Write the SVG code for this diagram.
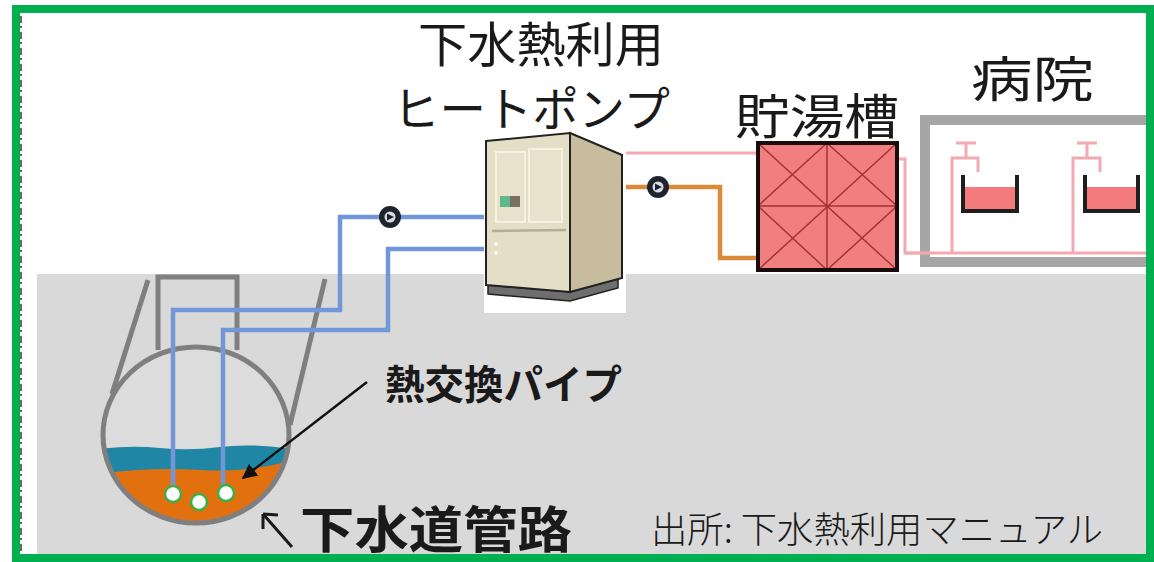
<svg xmlns="http://www.w3.org/2000/svg" width="1154" height="562" viewBox="0 0 1154 562">
  <style>
    .jp { font-family: "Noto Sans CJK JP", "Noto Sans CJK SC", sans-serif; fill: #1a1a1a; }
    .blue { fill: none; stroke: #7396d6; stroke-width: 4.5; stroke-linejoin: miter; }
    .pink { fill: none; stroke: #f2a9b1; stroke-width: 3; }
    .orange { fill: none; stroke: #d98a3a; stroke-width: 4.5; }
    .rim { fill: none; stroke: #7f7f7f; stroke-width: 5; stroke-linejoin: miter; }
    .grid { stroke: #a33535; stroke-width: 1.5; }
    .sink { fill: none; stroke: #1e1e1e; stroke-width: 4; }
    .ball { fill: #ffffff; stroke: #3cb043; stroke-width: 2.5; }
  </style>
  <defs>
    <clipPath id="sewerClip">
      <ellipse cx="196" cy="435" rx="93" ry="88"/>
    </clipPath>
    <marker id="arrowHead" viewBox="0 0 10 10" refX="9" refY="5" markerWidth="6" markerHeight="6" orient="auto" markerUnits="strokeWidth">
      <path d="M0,0 L10,5 L0,10 Z" fill="#111"/>
    </marker>
    <g id="pump">
      <circle r="11" fill="#1d2430"/>
      <circle r="5.5" fill="#d8dde4"/>
      <path d="M-3,-3.5 L4,0 L-3,3.5 Z" fill="#1d2430"/>
    </g>
  </defs>

  <!-- page -->
  <rect width="1154" height="562" fill="#ffffff"/>
  <rect x="37" y="274" width="1117" height="284" fill="#d9d9d9"/>
  <line x1="21" y1="16" x2="21" y2="554" stroke="#3a3a3a" stroke-width="2" stroke-dasharray="7 3 2 4" opacity="0.75"/>

  <!-- sewer pipe with heat-exchange pipes -->
  <g id="sewer">
    <ellipse cx="196" cy="435" rx="93" ry="88" fill="#dcdcdc"/>
    <g clip-path="url(#sewerClip)">
      <path d="M100,449 Q130,445 160,448 T220,447 T292,449 L292,540 L100,540 Z" fill="#1f86a6"/>
      <path d="M100,474 Q150,467 200,470 T292,460 L292,540 L100,540 Z" fill="#e2700f"/>
    </g>
    <path class="rim" d="M158,350 L158,277 L237,277 L237,350"/>
    <path class="rim" d="M148,280 L112,394"/>
    <path class="rim" d="M325,279 L290,425"/>
    <ellipse class="rim" cx="196" cy="435" rx="93" ry="88"/>
  </g>

  <!-- water / hot-water piping -->
  <g id="connectors">
    <path class="blue" d="M484,217 L340,217 L340,310 L173,310 L173,490"/>
    <path class="blue" d="M484,249 L388,249 L388,330 L223,330 L223,487"/>
    <path class="orange" d="M626,187 L720,187 L720,258 L758,258"/>
    <path class="pink" d="M626,153 L758,153"/>
    <path class="pink" d="M897,159 L905,159 L905,253 L1154,253"/>
    <line x1="367" y1="382" x2="243" y2="478" stroke="#111" stroke-width="2.5" marker-end="url(#arrowHead)"/>
    <use href="#pump" x="390" y="217"/>
    <use href="#pump" x="658" y="187"/>
  </g>

  <g id="pipes-in-sewer">
    <circle class="ball" cx="173" cy="494" r="8"/>
    <circle class="ball" cx="199" cy="502" r="8"/>
    <circle class="ball" cx="226" cy="493" r="8"/>
  </g>

  <!-- sewage heat pump unit -->
  <g id="heat-pump">
    <rect x="484" y="133" width="142" height="180" fill="#ffffff"/>
    <path d="M488,285 L570,292 L618,279 L618,288 L570,301 L488,294 Z" fill="#6e6e6e" stroke="#222" stroke-width="1.5"/>
    <path d="M570,133 L622,155 L622,278 L570,292 Z" fill="#c8bc9e" stroke="#222" stroke-width="2"/>
    <path d="M486,141 L570,133 L570,292 L486,285 Z" fill="#e5dec6" stroke="#222" stroke-width="2"/>
    <rect x="496" y="152" width="29" height="70" fill="#e8e2cc" stroke="#f5f1e3" stroke-width="2"/>
    <rect x="529" y="149" width="33" height="73" fill="#e8e2cc" stroke="#f5f1e3" stroke-width="2"/>
    <line x1="492" y1="231" x2="566" y2="230" stroke="#b5ad95" stroke-width="2.5"/>
    <rect x="500" y="196" width="10" height="11" fill="#5fb88c"/>
    <rect x="510" y="196" width="10" height="11" fill="#7a6f62"/>
    <circle cx="496" cy="244" r="1.8" fill="#ffffff"/>
    <circle cx="496" cy="253" r="1.8" fill="#ffffff"/>
  </g>

  <!-- hot-water storage tank -->
  <g id="tank">
    <rect x="758" y="143" width="139" height="127" fill="#f27f7f"/>
    <path class="grid" d="M827,143 L827,270 M758,206 L897,206 M758,143 L897,270 M897,143 L758,270 M827,143 L897,206 L827,270 L758,206 Z" fill="none"/>
    <rect x="758" y="143" width="139" height="127" fill="none" stroke="#1a0c0c" stroke-width="4"/>
  </g>

  <!-- hospital with two taps -->
  <g id="hospital">
    <rect x="925" y="120" width="240" height="142" fill="#ffffff" stroke="#a6a6a6" stroke-width="10"/>
    <path class="pink" d="M905,253 L1154,253"/>
    <path class="pink" d="M952,253 L952,158 L978,158 L978,172 M956,143 L976,143 M966,143 L966,158"/>
    <path class="pink" d="M1073,253 L1073,158 L1100,158 L1100,172 M1077,143 L1097,143 M1087,143 L1087,158"/>
    <rect x="965" y="187" width="50" height="23" fill="#f47b7b"/>
    <path class="sink" d="M963,175 L963,211 L1017,211 L1017,175"/>
    <rect x="1087" y="187" width="49" height="23" fill="#f47b7b"/>
    <path class="sink" d="M1085,175 L1085,211 L1138,211 L1138,175"/>
  </g>

  <!-- labels -->
  <g id="labels">
    <text class="jp" x="418" y="62" font-size="48" textLength="246" lengthAdjust="spacingAndGlyphs">下水熱利用</text>
    <text class="jp" x="393" y="126" font-size="47" textLength="277" lengthAdjust="spacingAndGlyphs">ヒートポンプ</text>
    <text class="jp" x="735" y="134" font-size="48" textLength="164" lengthAdjust="spacingAndGlyphs">貯湯槽</text>
    <text class="jp" x="971" y="97" font-size="49" textLength="123" lengthAdjust="spacingAndGlyphs">病院</text>
    <text class="jp" x="385" y="399" font-size="40" font-weight="700" textLength="237" lengthAdjust="spacingAndGlyphs">熱交換パイプ</text>
    <path d="M292,547 L263,514 M263,514 L263,529 M263,514 L278,515" fill="none" stroke="#1a1a1a" stroke-width="3"/>
    <text class="jp" x="300" y="548" font-size="50" font-weight="700" textLength="272" lengthAdjust="spacingAndGlyphs">下水道管路</text>
    <text class="jp" x="651" y="543" font-size="36" font-weight="300" textLength="452" lengthAdjust="spacingAndGlyphs">出所: 下水熱利用マニュアル</text>
  </g>

  <!-- frame -->
  <rect x="16" y="9" width="1134" height="549" fill="none" stroke="#00b050" stroke-width="8"/>
</svg>
